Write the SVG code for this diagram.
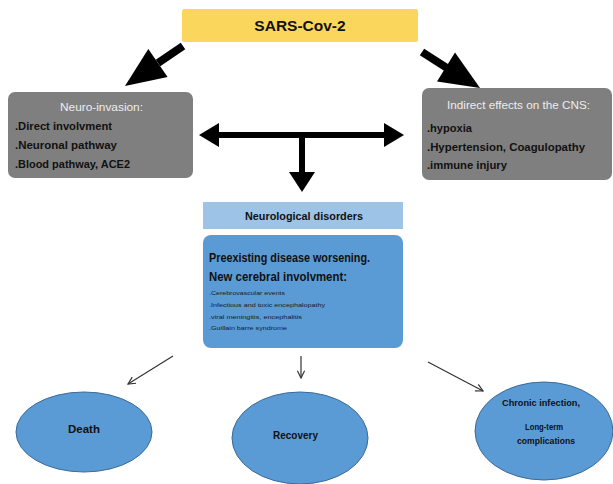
<svg xmlns="http://www.w3.org/2000/svg" width="613" height="484" viewBox="0 0 613 484">
<defs>
<style>
.t{font-family:"Liberation Sans",Arial,sans-serif;}
.b{font-weight:bold;fill:#111;}
.s{fill:#1a1a1a;}
.w{fill:#EDEDED;}
.gray{fill:#7F7F7F;}
.ell{fill:#5B9BD5;stroke:#3A6A96;stroke-width:1;}
.thin{stroke:#333;stroke-width:1.2;fill:none;marker-end:url(#open);}
.big{stroke:#000;fill:none;}
</style>
<marker id="open" viewBox="0 0 10 10" refX="9" refY="5" markerWidth="9" markerHeight="9" orient="auto" markerUnits="userSpaceOnUse">
<path d="M1,1 L9,5 L1,9" fill="none" stroke="#333" stroke-width="1.3"/>
</marker>
</defs>
<rect width="613" height="484" fill="#fff"/>

<g id="sars">
<rect x="182" y="9" width="236" height="33" rx="2" fill="#FBD65C"/>
<text class="t b" x="300" y="31" font-size="15.5" text-anchor="middle">SARS-Cov-2</text>
</g>

<g id="neuroinvasion">
<rect class="gray" x="8" y="92" width="185" height="86" rx="7"/>
<text class="t w" x="60" y="111" font-size="10.5" textLength="83" lengthAdjust="spacingAndGlyphs">Neuro-invasion:</text>
<text class="t b" x="15" y="130" font-size="11" textLength="97" lengthAdjust="spacingAndGlyphs">.Direct involvment</text>
<text class="t b" x="15" y="149" font-size="11" textLength="102" lengthAdjust="spacingAndGlyphs">.Neuronal pathway</text>
<text class="t b" x="15" y="168" font-size="11" textLength="115" lengthAdjust="spacingAndGlyphs">.Blood pathway, ACE2</text>
</g>

<g id="indirect">
<rect class="gray" x="422" y="88" width="190" height="92" rx="7"/>
<text class="t w" x="447" y="109" font-size="10.5" textLength="143" lengthAdjust="spacingAndGlyphs">Indirect  effects on the CNS:</text>
<text class="t b" x="427" y="132" font-size="11" textLength="45" lengthAdjust="spacingAndGlyphs">.hypoxia</text>
<text class="t b" x="427" y="151" font-size="11" textLength="158" lengthAdjust="spacingAndGlyphs">.Hypertension, Coagulopathy</text>
<text class="t b" x="427" y="169" font-size="11" textLength="80" lengthAdjust="spacingAndGlyphs">.immune injury</text>
</g>

<g id="neurological">
<rect x="203" y="202" width="200" height="27" fill="#9DC3E6"/>
<text class="t b" x="245" y="220" font-size="10.5" textLength="118" lengthAdjust="spacingAndGlyphs">Neurological disorders</text>
</g>

<g id="details">
<rect x="203" y="235" width="200" height="113" rx="8" fill="#5B9BD5"/>
<text class="t b" x="209" y="262" font-size="12" textLength="161" lengthAdjust="spacingAndGlyphs">Preexisting disease worsening.</text>
<text class="t b" x="209" y="281" font-size="12" textLength="138" lengthAdjust="spacingAndGlyphs">New cerebral involvment:</text>
<text class="t s" x="209" y="295" font-size="6" textLength="76" lengthAdjust="spacingAndGlyphs">.Cerebrovascular events</text>
<text class="t s" x="209" y="307" font-size="6" textLength="116" lengthAdjust="spacingAndGlyphs">.Infectious and toxic encephalopathy</text>
<text class="t s" x="209" y="319" font-size="6" textLength="93" lengthAdjust="spacingAndGlyphs">.viral meningitis, encephalitis</text>
<text class="t s" x="209" y="330" font-size="6" textLength="78" lengthAdjust="spacingAndGlyphs">.Guillain barre syndrome</text>
</g>

<g id="death">
<ellipse class="ell" cx="84" cy="432" rx="68" ry="40"/>
<text class="t b" x="84" y="433" font-size="11.5" text-anchor="middle">Death</text>
</g>

<g id="recovery">
<ellipse class="ell" cx="300" cy="438" rx="68" ry="46"/>
<text class="t b" x="273" y="439" font-size="11" textLength="45" lengthAdjust="spacingAndGlyphs">Recovery</text>
</g>

<g id="chronic">
<ellipse class="ell" cx="544" cy="431" rx="69" ry="49"/>
<text class="t b" x="502" y="406" font-size="9.5" textLength="78" lengthAdjust="spacingAndGlyphs">Chronic infection,</text>
<text class="t b" x="525" y="430" font-size="9.5" textLength="38" lengthAdjust="spacingAndGlyphs">Long-term</text>
<text class="t b" x="517" y="444" font-size="9.5" textLength="58" lengthAdjust="spacingAndGlyphs">complications</text>
</g>

<g id="connectors">
<line class="big" x1="183" y1="46" x2="158" y2="63" stroke-width="8"/>
<polygon points="125,86 167.6,77 148.3,49" fill="#000"/>
<line class="big" x1="422" y1="52" x2="447" y2="68" stroke-width="8"/>
<polygon points="480,88 437,81.5 455,52.5" fill="#000"/>
<line class="big" x1="216" y1="135" x2="387" y2="135" stroke-width="6"/>
<polygon points="199,135 219,123 219,147" fill="#000"/>
<polygon points="404,135 384,123 384,147" fill="#000"/>
<line class="big" x1="302" y1="135" x2="302" y2="174" stroke-width="6"/>
<polygon points="302,192 289,172 315,172" fill="#000"/>
<line class="thin" x1="173" y1="356" x2="128" y2="384"/>
<line class="thin" x1="301" y1="356" x2="301" y2="378"/>
<line class="thin" x1="428" y1="362" x2="483" y2="391"/>
</g>
</svg>
